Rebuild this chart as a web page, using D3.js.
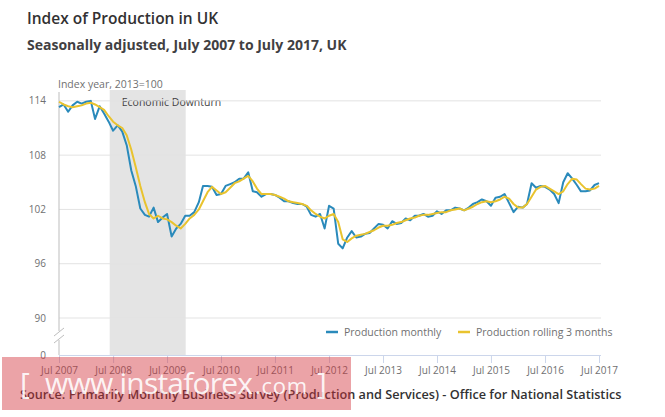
<!DOCTYPE html>
<html>
<head>
<meta charset="utf-8">
<script src="https://cdn.jsdelivr.net/npm/d3@7/dist/d3.min.js"></script>
<style>
  html, body { margin: 0; padding: 0; background: #fff; }
  svg { display: block; font-family: "Open Sans", "Noto Sans", sans-serif; }
</style>
</head>
<body>
<svg id="chart" width="665" height="417"></svg>
<script>
// ---- Data ----
const startMonth = "2007-07";
const endMonth = "2017-07";

const productionMonthly = [
  113.3, 113.6, 112.8, 113.5, 113.9, 113.7, 113.9, 114.0, 112.0, 113.4,
  112.6, 111.7, 110.7, 111.3, 110.6, 109.1, 106.3, 104.6, 102.1, 101.4,
  101.2, 102.2, 100.6, 101.1, 101.5, 99.0, 99.9, 100.4, 101.3, 101.3,
  101.7, 102.8, 104.6, 104.6, 104.5, 103.6, 103.7, 104.6, 104.8, 105.0,
  105.4, 105.4, 106.1, 104.0, 103.9, 103.4, 103.7, 103.7, 103.6, 103.3,
  102.9, 102.9, 102.7, 102.6, 102.6, 102.3, 101.4, 101.2, 101.5, 99.9,
  102.4, 102.1, 98.2, 97.7, 98.9, 99.6, 98.9, 99.0, 99.3, 99.4,
  99.9, 100.4, 100.3, 99.9, 100.7, 100.4, 100.5, 101.0, 100.8, 101.3,
  101.3, 101.5, 101.2, 101.3, 101.8, 101.5, 101.9, 101.9, 102.2, 102.1,
  101.9, 102.2, 102.6, 102.8, 103.1, 102.9, 102.4, 103.3, 103.4, 103.7,
  102.7, 101.7, 102.3, 102.2, 102.6, 104.9, 104.4, 104.6, 104.5, 104.2,
  103.7, 102.7, 105.0, 106.0, 105.4, 104.7, 104.0, 104.0, 104.1, 104.7,
  104.9
];

const productionRolling3 = [
  113.9, 113.6, 113.4, 113.3, 113.4, 113.5, 113.7, 113.8, 113.6, 113.3,
  113.0, 112.3, 111.7, 111.3, 111.0, 110.2, 108.6, 106.7, 104.6, 102.8,
  101.5, 101.0, 101.3, 101.0, 100.9, 100.6, 100.2, 99.9, 100.4, 101.0,
  101.4, 102.0, 102.9, 103.9, 104.5, 104.1, 103.7, 103.9, 104.4, 104.9,
  105.1, 105.4, 105.7, 105.1, 104.3, 103.7, 103.7, 103.7, 103.6, 103.4,
  103.2, 102.9, 102.8, 102.7, 102.6, 102.4, 101.9, 101.5, 101.2, 101.0,
  101.3, 101.5, 100.6, 98.7, 98.4, 98.8, 99.1, 99.2, 99.3, 99.5,
  99.7, 100.0, 100.2, 100.2, 100.3, 100.5, 100.6, 100.8, 101.0, 101.1,
  101.3, 101.4, 101.4, 101.5, 101.6, 101.7, 101.7, 101.9, 102.0, 102.1,
  101.9, 102.1, 102.3, 102.6, 102.8, 102.9, 102.8, 102.9, 103.1, 103.4,
  103.2, 102.6, 102.2, 102.2, 102.6, 103.4, 104.2, 104.5, 104.6, 104.3,
  104.0, 103.7, 104.0, 104.8, 105.4, 105.3, 104.8, 104.3, 104.2, 104.3,
  104.6
];

const xTickLabels = ["Jul 2007", "Jul 2008", "Jul 2009", "Jul 2010", "Jul 2011",
  "Jul 2012", "Jul 2013", "Jul 2014", "Jul 2015", "Jul 2016", "Jul 2017"];
const yTicks = [90, 96, 102, 108, 114];
const yZeroLabel = "0";
const downturn = { start: "2008-06-08", end: "2009-11-04", label: "Economic Downturn" };
const seriesNames = ["Production monthly", "Production rolling 3 months"];
const seriesColors = ["#2a8abb", "#e9c32e"];

// ---- Layout ----
const svg = d3.select("#chart");
const plot = { left: 59, right: 601, top: 90, bottom: 355 };

const parseM = d3.timeParse("%Y-%m");
const parseD = d3.timeParse("%Y-%m-%d");
const t0 = parseM(startMonth), t1 = parseM(endMonth);
const months = d3.timeMonth.range(t0, d3.timeMonth.offset(t1, 1));

const x = d3.scaleTime().domain([t0, t1]).range([59, 599]);
const y = d3.scaleLinear().domain([0, 90, 115.2]).range([355, 318, 90]);

// Title & subtitle
svg.append("text").attr("x", 27).attr("y", 24)
  .attr("font-size", 15.5).attr("font-weight", 600).attr("fill", "#323132")
  .text("Index of Production in UK");
svg.append("text").attr("x", 27).attr("y", 50)
  .attr("font-size", 14).attr("font-weight", 700).attr("fill", "#414042")
  .text("Seasonally adjusted, July 2007 to July 2017, UK");

// Downturn band
svg.append("rect")
  .attr("x", x(parseD(downturn.start))).attr("y", plot.top)
  .attr("width", x(parseD(downturn.end)) - x(parseD(downturn.start)))
  .attr("height", plot.bottom - plot.top)
  .attr("fill", "#e4e4e4");
svg.append("text")
  .attr("x", x(parseD(downturn.start)) + 12).attr("y", 106)
  .attr("font-size", 10.5).attr("fill", "#414042")
  .text(downturn.label);

// Grid lines
const grid = svg.append("g");
yTicks.forEach(v => {
  grid.append("line")
    .attr("x1", plot.left).attr("x2", plot.right)
    .attr("y1", y(v)).attr("y2", y(v))
    .attr("stroke", "#e3e3e3").attr("stroke-width", 1);
});

// Y axis labels
const yl = svg.append("g").attr("font-size", 10).attr("fill", "#707071").attr("text-anchor", "end");
yTicks.forEach(v => {
  yl.append("text").attr("x", 46).attr("y", y(v) + 3.5).text(v);
});
yl.append("text").attr("x", 46).attr("y", y(0) + 3.5).text(yZeroLabel);

svg.append("text").attr("x", 58).attr("y", 88)
  .attr("font-size", 10.5).attr("fill", "#707071")
  .text("Index year, 2013=100");

// Y axis line with break
svg.append("line").attr("x1", plot.left).attr("x2", plot.left)
  .attr("y1", 92).attr("y2", 331).attr("stroke", "#bdbdbd");
svg.append("line").attr("x1", plot.left).attr("x2", plot.left)
  .attr("y1", 340).attr("y2", plot.bottom).attr("stroke", "#bdbdbd");
[[54, 336, 64, 328], [54, 343, 64, 335]].forEach(d => {
  svg.append("line").attr("x1", d[0]).attr("y1", d[1]).attr("x2", d[2]).attr("y2", d[3])
    .attr("stroke", "#bdbdbd").attr("stroke-width", 1);
});

// X axis
const xTickDates = xTickLabels.map(s => d3.timeParse("%b %Y")(s));
const xAxis = d3.axisBottom(x).tickValues(xTickDates)
  .tickFormat((d, i) => xTickLabels[i]).tickSize(8).tickPadding(4);
const xg = svg.append("g").attr("transform", `translate(0,${plot.bottom})`).call(xAxis);
xg.select(".domain").attr("d", `M${plot.left},0.5H${plot.right}`).attr("stroke", "#ccd6eb");
xg.selectAll(".tick line").attr("stroke", "#ccd6eb");
xg.selectAll(".tick text").attr("fill", "#707071").attr("font-size", 10)
  .attr("font-family", "'Open Sans', sans-serif");

// Lines
const line = d3.line().x((d, i) => x(months[i])).y(d => y(d));
svg.append("path").datum(productionMonthly)
  .attr("d", line).attr("fill", "none")
  .attr("stroke", seriesColors[0]).attr("stroke-width", 2).attr("stroke-linejoin", "round");
svg.append("path").datum(productionRolling3)
  .attr("d", line).attr("fill", "none")
  .attr("stroke", seriesColors[1]).attr("stroke-width", 2).attr("stroke-linejoin", "round");

// Legend
const legendPos = [326, 458];
seriesNames.forEach((n, i) => {
  const g = svg.append("g").attr("transform", `translate(${legendPos[i]},332)`);
  g.append("line").attr("x1", 0).attr("x2", 12).attr("y1", 0).attr("y2", 0)
    .attr("stroke", seriesColors[i]).attr("stroke-width", 2.5);
  g.append("text").attr("x", 18).attr("y", 3.8).attr("font-size", 10.5)
    .attr("fill", "#707071").text(n);
});

// Source
svg.append("text").attr("x", 20).attr("y", 399)
  .attr("font-size", 12.7).attr("font-weight", 600).attr("fill", "#323132")
  .text("Source: Primarily Monthly Business Survey (Production and Services) - Office for National Statistics");

// Watermark overlay
svg.append("rect").attr("x", 2).attr("y", 357).attr("width", 349).attr("height", 53)
  .attr("fill", "rgb(210,50,60)").attr("fill-opacity", 0.45);
const wm = svg.append("g").attr("fill", "#fff").attr("fill-opacity", 0.9)
  .attr("font-family", "'Open Sans', sans-serif");
wm.append("text").attr("x", 20).attr("y", 394).attr("font-size", 30).text("[");
wm.append("text").attr("x", 45).attr("y", 394).attr("font-size", 30)
  .attr("textLength", 208).attr("lengthAdjust", "spacing").text("www.instaforex");
wm.append("text").attr("x", 255).attr("y", 394).attr("font-size", 22)
  .attr("textLength", 52).attr("lengthAdjust", "spacing").text(".com");
wm.append("text").attr("x", 317).attr("y", 394).attr("font-size", 30).text("]");
</script>
</body>
</html>
